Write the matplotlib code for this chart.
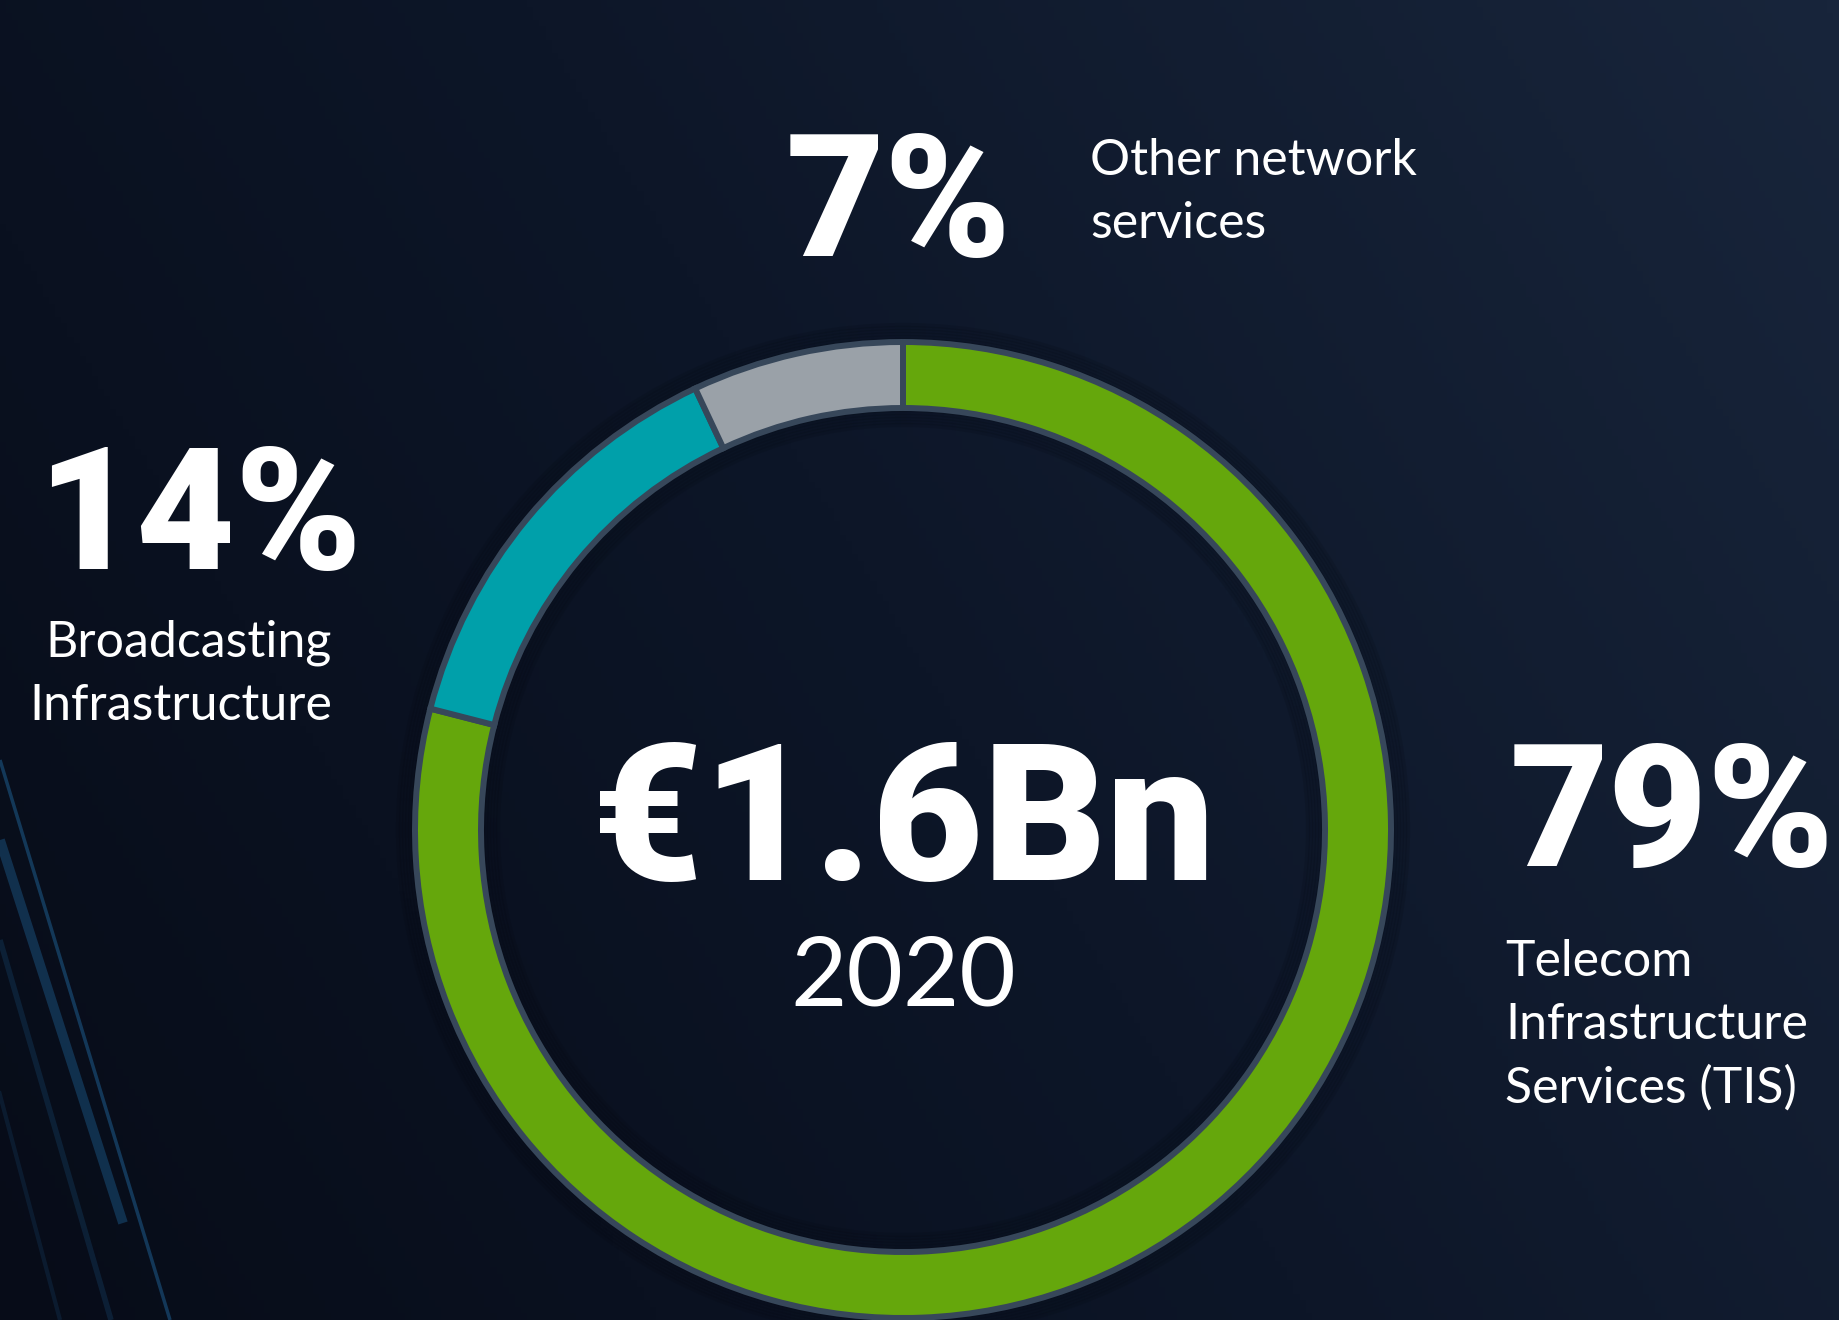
import matplotlib.pyplot as plt
import numpy as np
from matplotlib.colors import LinearSegmentedColormap

W, H = 1839, 1320

# revenue split 2020, clockwise from the top
segments = ["Telecom Infrastructure Services (TIS)", "Broadcasting Infrastructure", "Other network services"]
shares = [79, 14, 7]
colors = ["#65a70c", "#00a0aa", "#9aa1a8"]
total_label = "€1.6Bn"
year_label = "2020"

fig = plt.figure(figsize=(W / 100, H / 100), dpi=100)
ax = fig.add_axes([0, 0, 1, 1])
ax.set_axis_off()

# background: dark navy, a little lighter towards the right
xx, yy = np.meshgrid(np.linspace(0, 1, 300), np.linspace(0, 1, 200))
grad = 0.7 * xx + 0.3 * yy
bg_cmap = LinearSegmentedColormap.from_list("bg", ["#070c18", "#0d1628", "#18253b"])
ax.imshow(grad, cmap=bg_cmap, extent=[0, W, 0, H], origin="lower", aspect="auto", zorder=0)

# light streaks bottom left
for (x0, y0, x1, y1, lw, a) in [(0, 560, 170, 0, 2.5, 0.55), (0, 480, 123, 97, 7, 0.45),
                                 (0, 380, 111, 0, 4, 0.25), (-20, 300, 60, 0, 3, 0.2)]:
    ax.plot([x0, x1], [y0, y1], color="#1d5b8c", lw=lw, alpha=a, solid_capstyle="butt", zorder=1)

cx, cy = 903, H - 830
r_out, ring = 488, 66

# soft shadow around the ring
for k in range(6):
    ax.add_patch(plt.Circle((cx, cy), r_out + 2 + k * 3, fill=False, lw=3,
                            color="#02050b", alpha=0.12, zorder=1))
    ax.add_patch(plt.Circle((cx, cy), r_out - ring - 2 - k * 3, fill=False, lw=3,
                            color="#02050b", alpha=0.12, zorder=1))

wedges, _ = ax.pie(shares, colors=colors, center=(cx, cy), radius=r_out, startangle=90,
                   counterclock=False,
                   wedgeprops=dict(width=ring, edgecolor="#37475a", linewidth=4.3), frame=False)
for w in wedges:
    w.set_zorder(3)

ax.set_xlim(0, W)
ax.set_ylim(0, H)
ax.set_aspect("equal")

big = dict(family="Roboto", weight="heavy", color="white")
lab = dict(family="Lato", color="white", fontsize=36, linespacing=1.46)

ax.text(1510, H - 866, f"{shares[0]}%", fontsize=123, ha="left", va="baseline", zorder=5, **big)
ax.text(1505, H - 1103, "Telecom\nInfrastructure\nServices (TIS)", ha="left", va="baseline", zorder=5, **lab)

ax.text(37, H - 569, f"{shares[1]}%", fontsize=123, ha="left", va="baseline", zorder=5, **big)
ax.text(332, H - 720, "Broadcasting\nInfrastructure", ha="right", va="baseline", zorder=5,
        multialignment="right", **lab)

ax.text(786, H - 256, f"{shares[2]}%", fontsize=123, ha="left", va="baseline", zorder=5, **big)
ax.text(1090, H - 238, "Other network\nservices", ha="left", va="baseline", zorder=5, **lab)

ax.text(cx, H - 880, total_label, fontsize=138, ha="center", va="baseline", zorder=5, **big)
ax.text(cx, H - 1006, year_label, family="Lato", color="white", fontsize=70,
        ha="center", va="baseline", zorder=5)

fig.savefig("out.png", dpi=100, facecolor="#0a1120")
